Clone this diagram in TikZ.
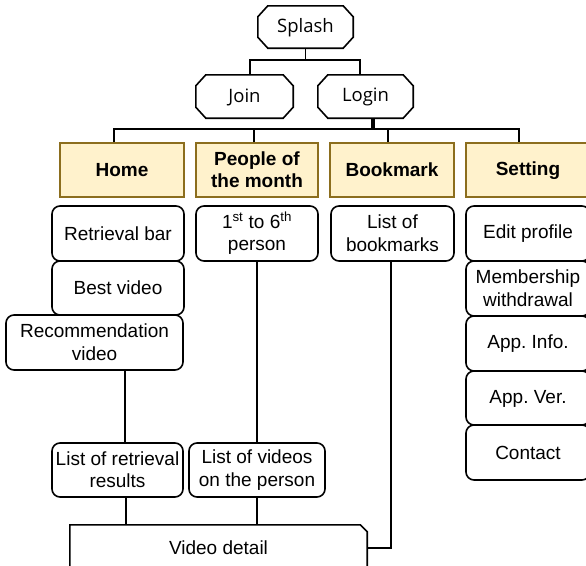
\documentclass[tikz,border=0pt]{standalone}
\usepackage{fontspec}
\setmainfont{Liberation Sans}
\newfontfamily\octfont{Open Sans}
\usetikzlibrary{calc}
\frenchspacing
\definecolor{hdrfill}{RGB}{255,242,204}
\definecolor{hdrline}{RGB}{140,110,30}
\newcommand\topstrut{\rule{0pt}{14.6pt}}
\newcommand\botstrut{\rule[-1pt]{0pt}{1pt}}
\tikzset{
  base/.style={inner sep=0pt, align=center, font=\fontsize{19}{22.5}\selectfont,
    execute at begin node=\topstrut, execute at end node=\botstrut},
  sub/.style={base, draw, line width=1.6pt, rounded corners=8pt, fill=white},
  hdr/.style={base, draw=hdrline, line width=1.6pt, fill=hdrfill, font=\fontsize{19}{22.5}\selectfont\bfseries},
  octnode/.style={inner sep=0pt, font=\octfont\fontsize{18.5}{22}\selectfont,
    execute at begin node=\topstrut, execute at end node=\botstrut},
  wire/.style={line width=1.6pt},
  thickwire/.style={line width=3.2pt},
}
\newcommand\octo[1]{\draw[line width=1.6pt] ([xshift=10pt]#1.north west) -- ([xshift=-10pt]#1.north east) -- ([yshift=-11pt]#1.north east) -- ([yshift=11pt]#1.south east) -- ([xshift=-10pt]#1.south east) -- ([xshift=10pt]#1.south west) -- ([yshift=11pt]#1.south west) -- ([yshift=-11pt]#1.north west) -- cycle;}
\begin{document}
\begin{tikzpicture}[x=1pt,y=-1pt]
\useasboundingbox (0,0) rectangle (586,565);
% top octagons
\node[octnode, minimum width=95pt, minimum height=42pt] (splash) at (305.5,27) {Splash};
\node[octnode, minimum width=97pt, minimum height=43pt] (join) at (244.5,96.5) {Join};
\node[octnode, minimum width=95pt, minimum height=43pt] (login) at (365.5,96.5) {Login};
\octo{splash}
\octo{join}
\octo{login}
% headers
\node[hdr, minimum width=124pt, minimum height=54pt] (home) at (122,170) {Home};
\node[hdr, minimum width=122pt, minimum height=54pt] (people) at (257,170) {People of\\the month};
\node[hdr, minimum width=124pt, minimum height=54pt] (bookmark) at (392,170) {Bookmark};
\node[hdr, minimum width=124pt, minimum height=54pt] (setting) at (528,170) {Setting};
% connectors
\coordinate (bus1) at (305.5,60);
\coordinate (bus2) at (373,129);
\draw[wire] (splash.south) -- (bus1);
\draw[wire] ([xshift=5.5pt]join.north) |- (bus1) -| ([xshift=-5.5pt]login.north);
\draw[thickwire] ([xshift=7.5pt]login.south) -- (bus2);
\draw[wire] ([xshift=-8pt]home.north) |- (bus2) -| ([xshift=-9pt]setting.north);
\draw[wire] ([xshift=-3pt]people.north) -- ([xshift=-3pt]people.north |- bus2);
\draw[wire] ([xshift=-4pt]bookmark.north) -- ([xshift=-4pt]bookmark.north |- bus2);
% home column
\node[sub, minimum width=132pt, minimum height=55pt] (retbar) at (118,233.5) {Retrieval bar};
\node[sub, minimum width=132pt, minimum height=54pt] (best) at (118,288) {Best video};
\node[sub, minimum width=177pt, minimum height=55pt] (recom) at (94.5,342.5) {Recommendation\\video};
% people column
\node[sub, minimum width=122pt, minimum height=55pt] (first) at (257,233.5) {1\textsuperscript{st} to 6\textsuperscript{th}\\person};
% bookmark column
\node[sub, minimum width=123pt, minimum height=55pt] (listbm) at (392.5,233.5) {List of\\bookmarks};
% setting column
\node[sub, minimum width=124pt, minimum height=55pt] (edit) at (528,233.5) {Edit profile};
\node[sub, minimum width=124pt, minimum height=55pt] (member) at (528,288.5) {Membership\\withdrawal};
\node[sub, minimum width=124pt, minimum height=55pt] (appinfo) at (528,343.5) {App. Info.};
\node[sub, minimum width=124pt, minimum height=54pt] (appver) at (528,398) {App. Ver.};
\node[sub, minimum width=124pt, minimum height=55pt] (contact) at (528,452.5) {Contact};
% lists
\node[sub, minimum width=131pt, minimum height=54pt] (listret) at (117.5,470) {List of retrieval\\results};
\node[sub, minimum width=136pt, minimum height=54pt] (listvid) at (257,470) {List of videos\\on the person};
% video detail
\node[base, minimum width=297pt, minimum height=46pt] (video) at (218.5,548) {Video detail};
\draw[wire] (video.south west) -- (video.north west) -- ([xshift=-7pt]video.north east) -- ([yshift=-7pt]video.north east) -- (video.south east) -- cycle;
% lower connectors
\draw[wire] ([xshift=30.5pt]recom.south) -- ([xshift=7.5pt]listret.north);
\draw[wire] (first.south) -- (listvid.north);
\draw[wire] ([xshift=8.5pt]listret.south) -- ([xshift=8.5pt]listret.south |- video.north);
\draw[wire] (listvid.south) -- (listvid.south |- video.north);
\draw[wire] ([xshift=-1.5pt]listbm.south) |- (video.east);
\end{tikzpicture}
\end{document}
